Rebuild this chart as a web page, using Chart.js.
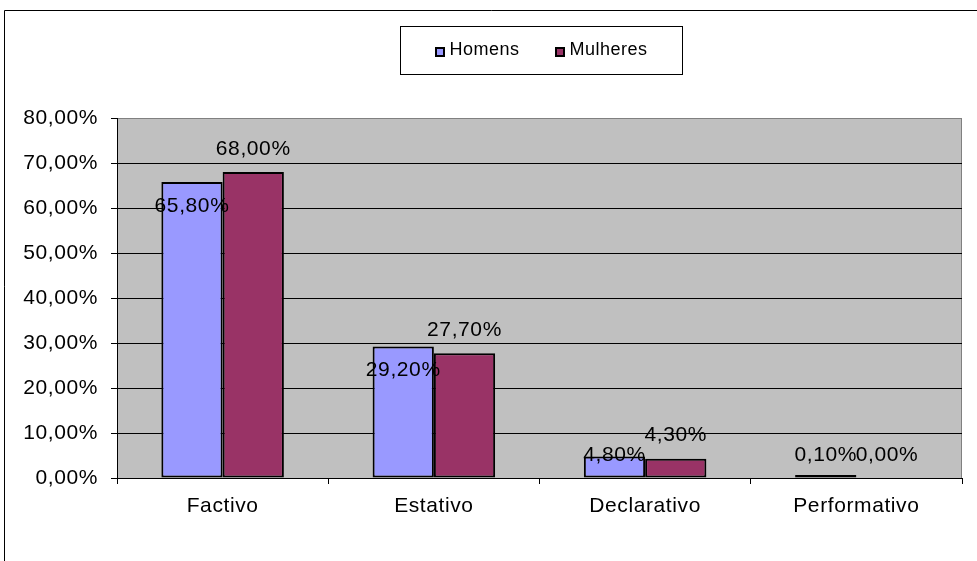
<!DOCTYPE html>
<html><head><meta charset="utf-8">
<script src="https://cdn.jsdelivr.net/npm/chart.js@4"></script>
<style>html,body{margin:0;padding:0;background:#fff}#wrap{width:977px;height:561px;position:relative}</style>
</head><body><div id="wrap"><canvas id="c" width="977" height="561"></canvas></div>
<script>
const categories = ['Factivo', 'Estativo', 'Declarativo', 'Performativo'];
const seriesNames = ['Homens', 'Mulheres'];
const homens = [65.8, 29.2, 4.8, 0.1];
const mulheres = [68.0, 27.7, 4.3, 0.0];
const yTicks = [0, 10, 20, 30, 40, 50, 60, 70, 80];
const seriesColors = ['#9999FF', '#993366'];

const FONT = '"Liberation Sans", Arial, sans-serif';
const fmt = v => v.toFixed(2).replace('.', ',') + '%';
const SP = '0.6px';

const spacingPlugin = {
  id: 'spacing',
  beforeUpdate(c) { c.ctx.letterSpacing = SP; },
  beforeLayout(c) { c.ctx.letterSpacing = SP; },
  beforeDraw(c) { c.ctx.letterSpacing = SP; }
};

const backgroundPlugin = {
  id: 'bgplot',
  beforeDraw(c) {
    const ctx = c.ctx, a = c.chartArea;
    ctx.save();
    ctx.fillStyle = '#fff';
    ctx.fillRect(0, 0, c.width, c.height);
    ctx.strokeStyle = '#000';
    ctx.lineWidth = 1;
    ctx.beginPath();
    ctx.moveTo(4.5, c.height + 2);
    ctx.lineTo(4.5, 10.5);
    ctx.lineTo(c.width + 2, 10.5);
    ctx.stroke();
    ctx.fillStyle = '#C0C0C0';
    ctx.fillRect(a.left, a.top, a.right - a.left, a.bottom - a.top);
    ctx.strokeStyle = '#808080';
    ctx.strokeRect(a.left + 0.5, a.top + 0.5, a.right - a.left - 1, a.bottom - a.top);
    ctx.restore();
  }
};

const legendPlugin = {
  id: 'boxLegend',
  afterDraw(c) {
    const ctx = c.ctx;
    ctx.save();
    ctx.letterSpacing = '0.5px';
    ctx.font = '18px ' + FONT;
    const box = { x: 400.5, y: 26.5, w: 282, h: 48 };
    ctx.fillStyle = '#fff';
    ctx.fillRect(box.x, box.y, box.w, box.h);
    ctx.strokeStyle = '#000';
    ctx.lineWidth = 1;
    ctx.strokeRect(box.x, box.y, box.w, box.h);
    const sq = 10, gapText = 4, gapItem = 36;
    const items = c.data.datasets.map(d => ({ label: d.label, color: d.backgroundColor, w: ctx.measureText(d.label).width }));
    const total = items.reduce((s, it) => s + sq + gapText + it.w, 0) + gapItem * (items.length - 1);
    let x = box.x + box.w / 2 - total / 2;
    const cy = box.y + box.h / 2;
    ctx.textBaseline = 'middle';
    ctx.textAlign = 'left';
    items.forEach(it => {
      const sx = Math.round(x), sy = Math.round(cy - sq / 2 + 1);
      ctx.fillStyle = '#000';
      ctx.fillRect(sx, sy, sq, sq);
      ctx.fillStyle = it.color;
      ctx.fillRect(sx + 2, sy + 2, sq - 4, sq - 4);
      x += sq + gapText;
      ctx.fillStyle = '#000';
      ctx.fillText(it.label, x, cy);
      x += it.w + gapItem;
    });
    ctx.restore();
  }
};

const labelPlugin = {
  id: 'valueLabels',
  afterDatasetsDraw(c) {
    const ctx = c.ctx;
    ctx.save();
    ctx.letterSpacing = SP;
    ctx.font = '21px ' + FONT;
    ctx.fillStyle = '#000';
    ctx.textAlign = 'center';
    ctx.textBaseline = 'middle';
    c.data.datasets.forEach((ds, di) => {
      const meta = c.getDatasetMeta(di);
      meta.data.forEach((el, i) => {
        const v = ds.data[i];
        const top = c.scales.y.getPixelForValue(v);
        const base = c.scales.y.getPixelForValue(0);
        let y;
        if (di === 0) y = Math.min(top + 24, base - 23);
        else y = top - 23;
        ctx.fillText(fmt(v), el.x, y);
      });
    });
    ctx.restore();
  }
};

new Chart(document.getElementById('c'), {
  type: 'bar',
  data: {
    labels: categories,
    datasets: [
      { label: seriesNames[0], data: homens, backgroundColor: seriesColors[0], borderColor: '#000', borderWidth: 2, borderSkipped: false, minBarLength: 3 },
      { label: seriesNames[1], data: mulheres, backgroundColor: seriesColors[1], borderColor: '#000', borderWidth: 2, borderSkipped: false }
    ]
  },
  options: {
    responsive: false,
    animation: false,
    devicePixelRatio: 1,
    layout: { padding: { top: 118, left: 0, right: 15, bottom: 0 } },
    datasets: { bar: { categoryPercentage: 0.58, barPercentage: 1 } },
    plugins: { legend: { display: false }, tooltip: { enabled: false }, title: { display: false } },
    scales: {
      x: {
        grid: { offset: true, drawOnChartArea: false, drawTicks: true, tickLength: 6, color: '#000' },
        border: { display: true, color: '#000', width: 1 },
        ticks: { color: '#000', font: { family: FONT, size: 21 }, padding: 10, maxRotation: 0 },
        afterFit(s) { s.height = 83; }
      },
      y: {
        min: 0, max: 80,
        afterBuildTicks(s) { s.ticks = yTicks.map(v => ({ value: v })); },
        grid: { color: ctx => (ctx.tick && ctx.tick.value === 80) ? '#808080' : '#000', tickColor: '#000', tickLength: 6, lineWidth: 1 },
        border: { display: true, color: '#000', width: 1 },
        ticks: { color: '#000', font: { family: FONT, size: 21 }, padding: 13, callback: v => fmt(v) },
        afterFit(s) { s.width = 117; }
      }
    }
  },
  plugins: [spacingPlugin, backgroundPlugin, labelPlugin, legendPlugin]
});
</script></body></html>
